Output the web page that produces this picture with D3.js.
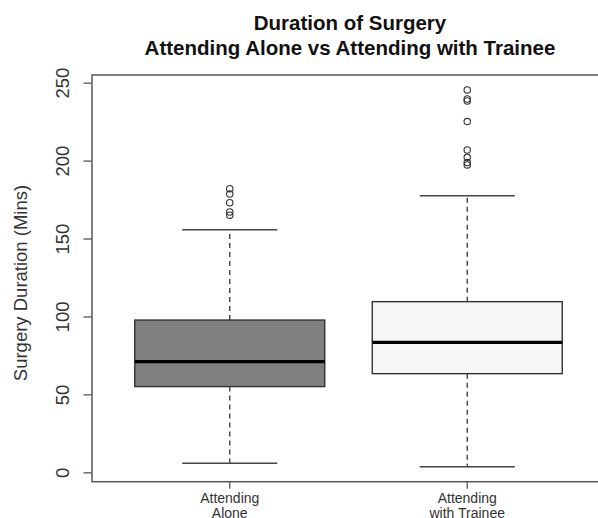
<!DOCTYPE html>
<html>
<head>
<meta charset="utf-8">
<script src="https://cdn.jsdelivr.net/npm/d3@7"></script>
<style>
  body { margin: 0; background: #fff; }
  svg { display: block; font-family: Arial, "Liberation Sans", sans-serif; }
</style>
</head>
<body>
<div id="chart"></div>
<script>
// box statistics (minutes)
var groups = ["Attending\nAlone", "Attending\nwith Trainee"];
var lowerWhisker = [5.8, 3.6];
var q1 = [55, 63.3];
var median = [71, 83.4];
var q3 = [97.7, 109.5];
var upperWhisker = [155.7, 177.5];
var outliers = [
  [182, 178.5, 173, 167, 165],
  [245.3, 239.5, 238.3, 225, 206.8, 202.1, 198.7, 197.2]
];
var fills = ["#7f7f7f", "#f6f6f6"];
var yTicks = [0, 50, 100, 150, 200, 250];

var width = 598, height = 518;
var margin = {left: 92, top: 75, bottom: 518 - 481.7};

var svg = d3.select("#chart").append("svg")
  .attr("width", width)
  .attr("height", height);

// R-style axes: 4% padding on each side
var x = d3.scaleLinear().domain([0.42, 2.58]).range([margin.left, 605]);
var y = d3.scaleLinear().domain([-6.0, 254.9]).range([height - margin.bottom, margin.top]);

var boxHalf = 0.4, capHalf = 0.2;

// frame
svg.append("rect")
  .attr("x", x(0.42)).attr("y", y(254.9))
  .attr("width", x(2.58) - x(0.42))
  .attr("height", y(-6) - y(254.9))
  .attr("fill", "none")
  .attr("stroke", "#555")
  .attr("stroke-width", 1.5);

// y axis
var yAxis = d3.axisLeft(y).tickValues(yTicks).tickSize(8);
var ya = svg.append("g")
  .attr("transform", "translate(" + (margin.left - 0.5) + ",0)")
  .call(yAxis);
ya.select(".domain").remove();
ya.selectAll("line").attr("stroke", "#555").attr("stroke-width", 1.3);
ya.selectAll("text")
  .attr("font-size", 18.5)
  .attr("fill", "#333")
  .attr("text-anchor", "middle")
  .attr("x", 0).attr("y", 0).attr("dy", 0)
  .attr("transform", "translate(-23,0) rotate(-90)");

// x axis ticks
var xa = svg.append("g")
  .attr("transform", "translate(0," + (height - margin.bottom) + ")");
xa.selectAll("line").data(groups).enter().append("line")
  .attr("x1", function(d, i) { return x(i + 1); })
  .attr("x2", function(d, i) { return x(i + 1); })
  .attr("y1", 0).attr("y2", 7)
  .attr("stroke", "#555").attr("stroke-width", 1.3);
xa.selectAll("text").data(groups).enter().append("text")
  .attr("x", function(d, i) { return x(i + 1); })
  .attr("y", 21)
  .attr("text-anchor", "middle")
  .attr("font-size", 14)
  .attr("fill", "#333")
  .each(function(d) {
    var t = d3.select(this);
    d.split("\n").forEach(function(s, k) {
      t.append("tspan").attr("x", t.attr("x")).attr("dy", k ? 15 : 0).text(s);
    });
  });

// boxes
var g = svg.append("g");
groups.forEach(function(name, i) {
  var cx = i + 1;
  // whiskers
  g.append("line")
    .attr("x1", x(cx)).attr("x2", x(cx))
    .attr("y1", y(q3[i])).attr("y2", y(upperWhisker[i]))
    .attr("stroke", "#333").attr("stroke-width", 1.3)
    .attr("stroke-dasharray", "5,4");
  g.append("line")
    .attr("x1", x(cx)).attr("x2", x(cx))
    .attr("y1", y(q1[i])).attr("y2", y(lowerWhisker[i]))
    .attr("stroke", "#333").attr("stroke-width", 1.3)
    .attr("stroke-dasharray", "5,4");
  [upperWhisker[i], lowerWhisker[i]].forEach(function(v) {
    g.append("line")
      .attr("x1", x(cx - capHalf)).attr("x2", x(cx + capHalf))
      .attr("y1", y(v)).attr("y2", y(v))
      .attr("stroke", "#444").attr("stroke-width", 1.5);
  });
  g.append("rect")
    .attr("x", x(cx - boxHalf))
    .attr("y", y(q3[i]))
    .attr("width", x(cx + boxHalf) - x(cx - boxHalf))
    .attr("height", y(q1[i]) - y(q3[i]))
    .attr("fill", fills[i])
    .attr("stroke", "#333").attr("stroke-width", 1.4);
  g.append("line")
    .attr("x1", x(cx - boxHalf)).attr("x2", x(cx + boxHalf))
    .attr("y1", y(median[i])).attr("y2", y(median[i]))
    .attr("stroke", "#000").attr("stroke-width", 3.2);
  g.selectAll(".out" + i).data(outliers[i]).enter().append("circle")
    .attr("cx", x(cx)).attr("cy", function(d) { return y(d); })
    .attr("r", 3.2)
    .attr("fill", "none")
    .attr("stroke", "#333").attr("stroke-width", 1.1);
});

// y axis title
svg.append("text")
  .attr("transform", "translate(27,283) rotate(-90)")
  .attr("text-anchor", "middle")
  .attr("font-size", 18.5)
  .attr("fill", "#333")
  .text("Surgery Duration (Mins)");

// title
var title = svg.append("text")
  .attr("x", 350).attr("y", 30)
  .attr("text-anchor", "middle")
  .attr("font-size", 20.5)
  .attr("font-weight", "bold")
  .attr("fill", "#111");
title.append("tspan").attr("x", 350).text("Duration of Surgery");
title.append("tspan").attr("x", 350).attr("dy", 25).text("Attending Alone vs Attending with Trainee");
</script>
</body>
</html>
